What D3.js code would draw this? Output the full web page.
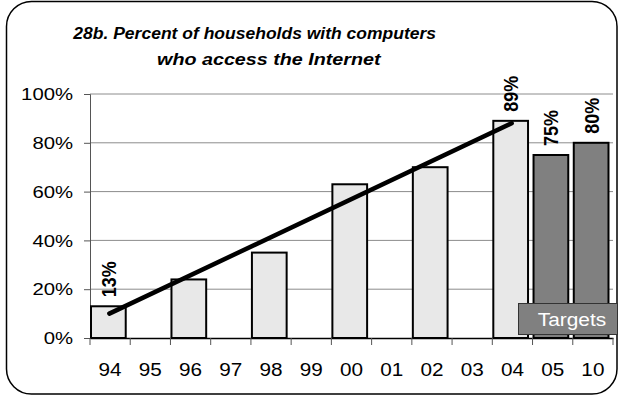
<!DOCTYPE html>
<html>
<head>
<meta charset="utf-8">
<script src="https://cdn.jsdelivr.net/npm/d3@7/dist/d3.min.js"></script>
<style>
html,body{margin:0;padding:0;background:#fff;}
svg{display:block;}
text{font-family:"Liberation Sans",Arial,sans-serif;}
</style>
</head>
<body>
<svg id="chart" width="619" height="396"></svg>
<script>
const categories = ["94","95","96","97","98","99","00","01","02","03","04","05","10"];
const actualYears = ["94","96","98","00","02","04"];
const actualValues = [13,24,35,63,70,89];
const targetYears = ["05","10"];
const targetValues = [75,80];
const labelYears = ["94","04","05","10"];
const yTicks = [0,20,40,60,80,100];
const titleLines = ["28b. Percent of households with computers","who access the Internet"];
const targetLabel = "Targets";

const svg = d3.select("#chart");
const x = d3.scaleBand().domain(categories).range([90,613]).padding(0);
const y = d3.scaleLinear().domain([0,100]).range([338,94]);
const barW = x.bandwidth()*0.888;

// outer frame
svg.append("rect").attr("x",6.5).attr("y",1.5).attr("width",610.5).attr("height",392.5)
  .attr("rx",25).attr("ry",25).attr("fill","#fff").attr("stroke","#000").attr("stroke-width",1.5);

// title
const titleX = [254.7, 268.8], titleY = [39, 65], titleSX = [1.03, 1.16];
titleLines.forEach((t,i)=>{
  svg.append("text").attr("transform",`translate(${titleX[i]},${titleY[i]}) scale(${titleSX[i]},1)`)
    .attr("text-anchor","middle").attr("font-size",17).attr("font-weight","bold").attr("font-style","italic")
    .attr("fill","#000").text(t);
});

// gridlines
svg.append("g").selectAll("line").data(yTicks.filter(d=>d>0)).join("line")
  .attr("x1",90).attr("x2",613).attr("y1",d=>y(d)).attr("y2",d=>y(d))
  .attr("stroke","#8c8c8c").attr("stroke-width",1);

// y axis
const yAxis = svg.append("g").attr("transform","translate(90,0)")
  .call(d3.axisLeft(y).tickValues(yTicks).tickSize(6).tickFormat(d=>d+"%"));
yAxis.select(".domain").attr("stroke","#555");
yAxis.selectAll(".tick line").attr("stroke","#555");
yAxis.selectAll(".tick text").remove();
yAxis.selectAll(".tick").append("text")
  .attr("transform","translate(-17,0) scale(1.27,1)")
  .attr("text-anchor","end").attr("dy","0.36em").attr("font-size",16).attr("fill","#000")
  .text(d=>d+"%");

// bars
const actualData = actualYears.map((c,i)=>({c,v:actualValues[i]}));
const targetData = targetYears.map((c,i)=>({c,v:targetValues[i]}));
svg.append("g").selectAll("rect").data(actualData).join("rect")
  .attr("x",d=>x(d.c)+1).attr("y",d=>y(d.v)).attr("width",barW-1).attr("height",d=>y(0)-y(d.v))
  .attr("fill","#e8e8e8").attr("stroke","#000").attr("stroke-width",2);
svg.append("g").selectAll("rect").data(targetData).join("rect")
  .attr("x",d=>x(d.c)+1).attr("y",d=>y(d.v)).attr("width",barW-1).attr("height",d=>y(0)-y(d.v))
  .attr("fill","#808080").attr("stroke","#000").attr("stroke-width",2);

// x axis
const xAxis = svg.append("g").attr("transform","translate(0,338)")
  .call(d3.axisBottom(x).tickSize(0).tickSizeOuter(0));
xAxis.select(".domain").attr("stroke","#000").attr("stroke-width",1.5);
xAxis.selectAll(".tick text").remove();
xAxis.selectAll(".tick").append("text")
  .attr("transform","translate(0,38) scale(1.12,1)")
  .attr("text-anchor","middle").attr("font-size",18.5).attr("fill","#000").text(d=>d);
const tickPos = categories.map(c=>x(c)).concat([x.range()[1]]);
svg.append("g").selectAll("line").data(tickPos).join("line")
  .attr("x1",d=>d).attr("x2",d=>d).attr("y1",338).attr("y2",345)
  .attr("stroke","#555").attr("stroke-width",1);

// trend line (least squares on actual data)
const idx = actualYears.map(c=>categories.indexOf(c));
const n = idx.length;
const mx = d3.mean(idx), my = d3.mean(actualValues);
const slope = d3.sum(idx.map((xi,i)=>(xi-mx)*(actualValues[i]-my)))/d3.sum(idx.map(xi=>(xi-mx)*(xi-mx)));
const icpt = my - slope*mx;
const first = actualYears[0], last = actualYears[n-1];
const trend = [first,last].map(c=>({c,v:icpt+slope*categories.indexOf(c)}));
svg.append("path").datum(trend)
  .attr("d",d3.line().x(d=>x(d.c)+barW/2+1.5).y(d=>y(d.v)))
  .attr("stroke","#000").attr("stroke-width",4.5).attr("stroke-linecap","round").attr("fill","none");

// value labels
const allData = actualData.concat(targetData).filter(d=>labelYears.includes(d.c));
svg.append("g").selectAll("text").data(allData).join("text")
  .attr("transform",d=>`translate(${x(d.c)+barW/2+0.5},${y(d.v)-9}) scale(1.15,1) rotate(-90)`)
  .attr("text-anchor","start").attr("dy","0.36em").attr("font-size",18).attr("font-weight","bold")
  .attr("fill","#000").text(d=>d.v+"%");

// Targets box
const tb = svg.append("g");
tb.append("rect").attr("x",518.5).attr("y",303.5).attr("width",99).attr("height",31)
  .attr("fill","#808080").attr("stroke","#333").attr("stroke-width",1);
tb.append("text").attr("transform","translate(572,325.5) scale(1.16,1)")
  .attr("text-anchor","middle").attr("font-size",18).attr("fill","#fff").text(targetLabel);
</script>
</body>
</html>
